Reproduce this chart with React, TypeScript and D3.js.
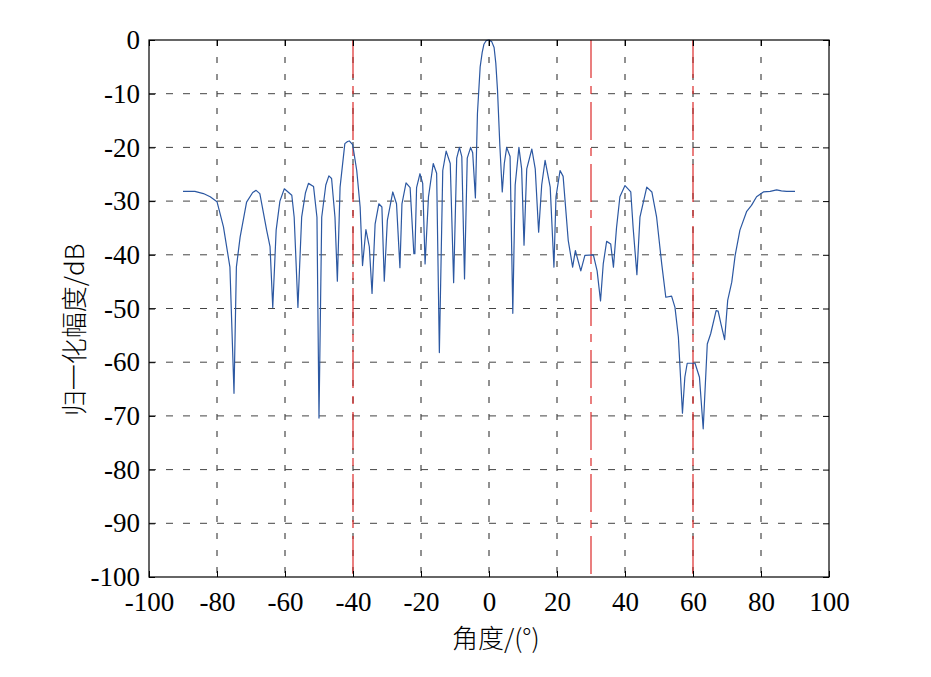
import React, { useRef, useEffect } from 'react';
import * as d3 from 'd3';

// 方向图数据 (角度 / 归一化幅度dB)
const angles = [
  -90, -86.5, -84, -82, -80, -78.1, -76.2, -75, -74.3, -73.2, -71.3, -69.5, -68.5, -67.4, -65.4, -64.4,
  -63.6, -62.6, -61.5, -60.2, -58, -57.3, -56.2, -55.1, -54, -53.1, -51.6, -50.6, -50, -49.2, -48, -47.1,
  -46.3, -45.3, -44.6, -43.8, -42.4, -41.6, -41.1, -40.1, -38.9, -37.9, -37.2, -36.2, -35.2, -34.4, -33.5, -32.4,
  -31.5, -30.8, -29.9, -28.3, -27.2, -26.2, -25.6, -24.4, -23.2, -22.1, -21.8, -21.3, -20.3, -19.5, -18.8,
  -17.8, -16.4, -15.4, -14.6, -13.6, -12.6, -11.4, -10.4, -9.5, -8.7, -8, -7.2, -6.4, -5.4, -4.8, -4, -3.4,
  -2.6, -2, -1.5, -0.8, 0, 0.8, 1.5, 2, 2.5, 3.2, 3.9, 4.5, 5.2, 6.2, 7, 7.7, 8.8, 9.6, 10.3, 11.1, 12.6, 13.6, 14.6, 15.5,
  16.5, 18, 19.1, 19.7, 20.9, 21.8, 23.3, 24.6, 25.4, 27, 28.2, 30.7, 31.8, 32.8, 33.6, 34.6, 35.8, 36.6,
  37.5, 38.5, 40, 41.7, 42.4, 43.5, 44.4, 46.4, 47.9, 49.3, 50.8, 52, 53.7, 54.7, 55.7, 56.9, 57.6, 58.3,
  60.6, 61.9, 63, 64.2, 65.2, 66.8, 67.4, 68.2, 69.3, 70.2, 71.4, 72.4, 73.8, 75.8, 77.2, 78.7, 80.7, 82.7,
  84.6, 86, 87.5, 90,
];
const gains = [
  -28.2, -28.2, -28.6, -29.2, -30.1, -34.8, -42.3, -65.8, -42.3, -36.7, -30.2, -28.4, -28, -28.6, -35.4, -38.5,
  -49.8, -35.4, -30, -27.7, -28.9, -33, -49.8, -33, -28.5, -26.7, -27.3, -33, -70.4, -33, -27, -25.3,
  -25.8, -33, -44.9, -27.4, -19.3, -18.9, -18.8, -19.5, -24.3, -31.1, -42, -35.3, -38.5, -47.2, -34.3, -30.5,
  -31.1, -44.9, -33.6, -28.3, -30.5, -42.4, -30.5, -26.6, -27.5, -39.8, -39.8, -27.5, -24.9, -26.7, -41.7,
  -29.2, -23, -24.8, -58.2, -24.3, -20.7, -23, -45.2, -22, -20, -21.7, -44.5, -22, -20, -21, -29.4, -13.7,
  -5, -2.3, -0.8, -0.1, 0, -0.3, -1.4, -4.3, -9.3, -19.8, -28.3, -23, -20, -21.7, -50.9, -27, -20, -24, -38.2, -24, -20.3, -24, -35.8, -27,
  -22.4, -27.4, -42.3, -29.2, -24.3, -25.4, -37.3, -42.3, -39.2, -43, -40.1, -40, -43, -48.6, -41.7, -37.5, -38, -42.3,
  -35, -29.2, -27.1, -28.3, -35, -43.7, -33, -27.4, -28.3, -33, -41.7, -47.9, -47.7, -49.8, -55.3, -69.5, -62.8, -60.2,
  -60.2, -62.8, -72.4, -56.6, -54.7, -50.4, -50.5, -52.8, -55.8, -48.5, -45.1, -40.1, -35.4, -31.9, -30.8, -29.2, -28.3, -28.2,
  -27.9, -28.1, -28.2, -28.2,
];

// 零陷 / 干扰方向
const markAngles = [-40, 30, 60];

const xTicks = [-100, -80, -60, -40, -20, 0, 20, 40, 60, 80, 100];
const yTicks = [0, -10, -20, -30, -40, -50, -60, -70, -80, -90, -100];

const Chart: React.FC = () => {
  const svgRef = useRef<SVGSVGElement | null>(null);

  useEffect(() => {
    if (!svgRef.current) return;

    const W = 931;
    const H = 677;
    const margin = { top: 40, right: 102, bottom: 100, left: 149 };
    const width = W - margin.left - margin.right;
    const height = H - margin.top - margin.bottom;

    const svg = d3.select(svgRef.current);
    svg.selectAll('*').remove();
    svg.attr('width', W).attr('height', H).style('background-color', '#ffffff');

    const g = svg.append('g').attr('transform', `translate(${margin.left},${margin.top})`);

    const x = d3.scaleLinear().domain([-100, 100]).range([0, width]);
    const y = d3.scaleLinear().domain([-100, 0]).range([height, 0]);

    const serif = "'Liberation Serif', 'Times New Roman', serif";

    // 网格
    g.append('g')
      .selectAll('line')
      .data(xTicks.slice(1, -1))
      .enter()
      .append('line')
      .attr('x1', (d) => x(d))
      .attr('x2', (d) => x(d))
      .attr('y1', 0)
      .attr('y2', height)
      .attr('stroke', '#222')
      .attr('stroke-width', 1)
      .attr('stroke-dasharray', '6,11');

    g.append('g')
      .selectAll('line')
      .data(yTicks.slice(1, -1))
      .enter()
      .append('line')
      .attr('x1', 0)
      .attr('x2', width)
      .attr('y1', (d) => y(d))
      .attr('y2', (d) => y(d))
      .attr('stroke', '#444')
      .attr('stroke-width', 1)
      .attr('stroke-dasharray', '7,10');

    // 红色竖线
    g.append('g')
      .selectAll('line')
      .data(markAngles)
      .enter()
      .append('line')
      .attr('x1', (d) => x(d))
      .attr('x2', (d) => x(d))
      .attr('y1', 0)
      .attr('y2', height)
      .attr('stroke', '#dd2a2a')
      .attr('stroke-width', 1.2)
      .attr('stroke-dasharray', '38,8,8,8');

    // 曲线
    const pts: [number, number][] = angles.map((a, i) => [a, gains[i]]);
    const line = d3
      .line<[number, number]>()
      .x((d) => x(d[0]))
      .y((d) => y(d[1]));
    g.append('path')
      .datum(pts)
      .attr('d', line)
      .attr('fill', 'none')
      .attr('stroke', '#2c58a2')
      .attr('stroke-width', 1.2)
      .attr('stroke-linejoin', 'round');

    // 坐标轴
    const xAxis = d3.axisBottom(x).tickValues(xTicks).tickSize(-6).tickPadding(15).tickFormat((d) => `${d}`);
    const yAxis = d3.axisLeft(y).tickValues(yTicks).tickSize(-6).tickPadding(9).tickFormat((d) => `${d}`);

    const styleAxis = (sel: d3.Selection<SVGGElement, unknown, null, undefined>) => {
      sel.select('.domain').remove();
      sel.selectAll('line').attr('stroke', '#000');
      sel.selectAll('text').attr('fill', '#000').style('font-family', serif).style('font-size', '27px');
    };

    g.append('g').attr('transform', `translate(0,${height})`).call(xAxis).call(styleAxis);
    g.append('g').call(yAxis).call(styleAxis);
    g.append('g').call(d3.axisTop(x).tickValues(xTicks).tickSize(-6).tickFormat(() => '')).call(styleAxis);
    g.append('g')
      .attr('transform', `translate(${width},0)`)
      .call(d3.axisRight(y).tickValues(yTicks).tickSize(-6).tickFormat(() => ''))
      .call(styleAxis);

    g.append('rect')
      .attr('width', width)
      .attr('height', height)
      .attr('fill', 'none')
      .attr('stroke', '#000')
      .attr('stroke-width', 1.2);

    // 轴标签
    svg
      .append('text')
      .attr('x', margin.left + x(2))
      .attr('y', 648)
      .attr('text-anchor', 'middle')
      .style('font-family', "'Noto Sans CJK SC', serif")
      .style('font-size', '26px')
      .style('font-weight', 300)
      .text('角度/(°)');

    svg
      .append('text')
      .attr('transform', `translate(84,${margin.top + y(-54)}) rotate(-90)`)
      .attr('text-anchor', 'middle')
      .style('font-family', "'Noto Sans CJK SC', serif")
      .style('font-size', '26px')
      .style('font-weight', 300)
      .text('归一化幅度/dB');
  }, []);

  return <svg ref={svgRef} style={{ position: 'absolute', left: 0, top: 0, display: 'block' }} />;
};

export default function App() {
  return <Chart />;
}
